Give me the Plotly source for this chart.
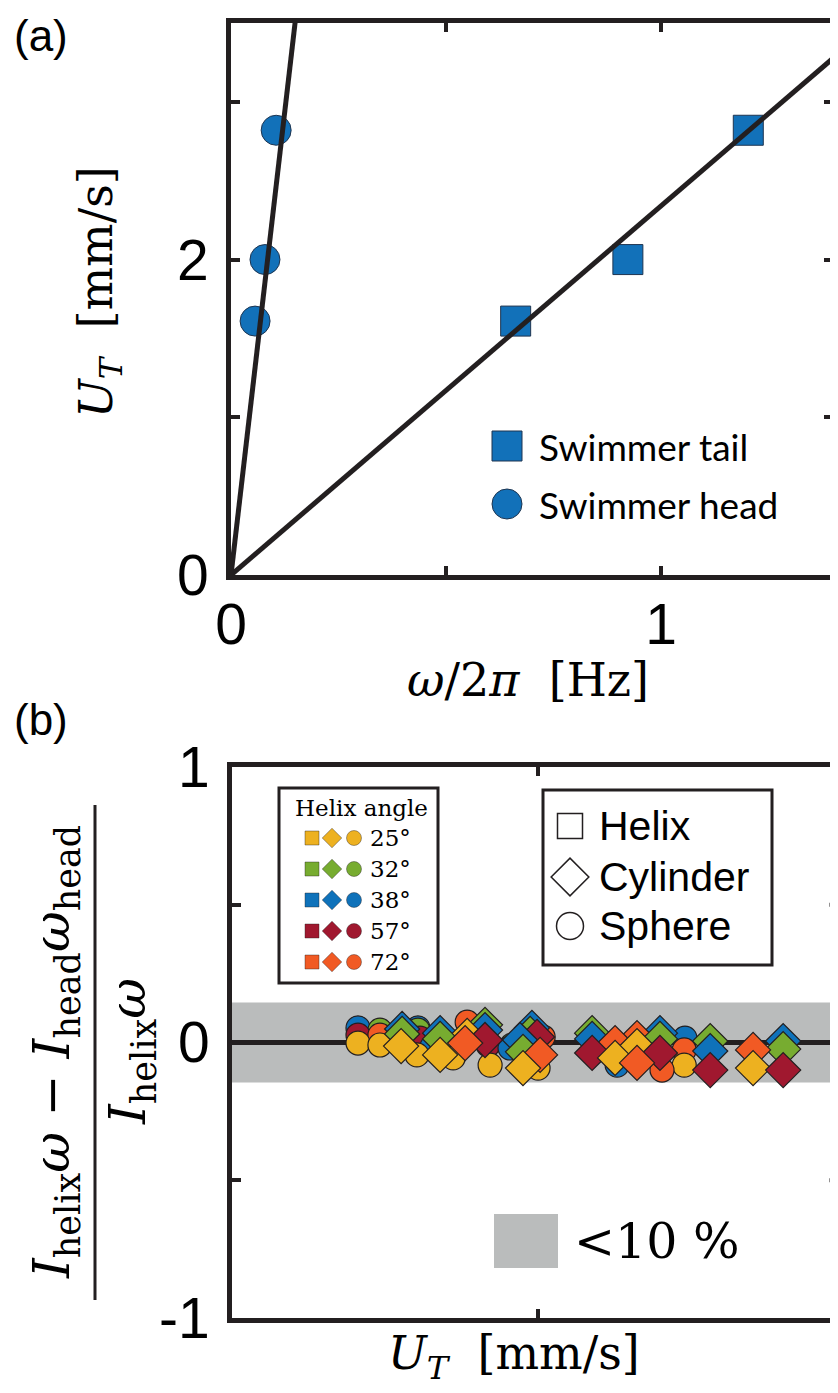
import plotly.graph_objects as go

# screen size and default page offset (body margin)
SW, SH = 838, 1393
OX, OY = 8, 8
FW, FH = SW - OX, SH - OY

# ---------------- Panel (a) data ----------------
swim_speed = [1.61, 2.00, 2.82]          # U_T [mm/s]
tail_freq = [0.662, 0.923, 1.203]        # omega/2pi of tail [Hz]
head_freq = [0.056, 0.079, 0.105]        # omega/2pi of head [Hz]
tail_fit_slope = 2.34
head_fit_slope = 23.5
freq_range = [0, 1.4]
speed_range = [0, 3.5]
a_xtick_vals = [0, 0.5, 1]
a_xtick_text = ["0", "", "1"]
a_ytick_vals = [0, 1, 2, 3]
a_ytick_text = ["0", "", "2", ""]

# ---------------- Panel (b) data ----------------
angle_labels = ["25°", "32°", "38°", "57°", "72°"]
angle_colors = ["#EDB120", "#77AC30", "#0F72BA", "#A0182F", "#F15A24"]

sph_x_25 = [1.294, 1.380, 1.525, 1.667, 1.812, 2.000, 2.573]
sph_y_25 = [-0.002, -0.009, -0.045, -0.056, -0.082, -0.093, -0.082]
cyl_x_25 = [1.463, 1.616, 1.722, 1.941, 2.302, 2.388, 2.843]
cyl_y_25 = [-0.013, -0.045, 0.024, -0.093, -0.056, -0.013, -0.093]

sph_x_32 = [1.380, 1.529, 1.898]
sph_y_32 = [0.045, 0.045, -0.009]
cyl_x_32 = [1.467, 1.616, 1.792, 1.969, 1.941, 2.212, 2.478, 2.675, 2.961]
cyl_y_32 = [0.031, 0.013, 0.064, 0.031, -0.034, 0.034, 0.013, 0.005, -0.024]

sph_x_38 = [1.294, 1.529, 1.584, 1.890, 2.310, 2.576]
sph_y_38 = [0.053, 0.053, -0.016, -0.020, -0.082, 0.016]
cyl_x_38 = [1.467, 1.616, 1.792, 1.976, 1.929, 2.212, 2.478, 2.675, 2.961]
cyl_y_38 = [0.049, 0.034, 0.045, 0.053, 0.009, 0.013, 0.034, -0.031, 0.005]

sph_x_57 = [1.294, 1.537, 1.804]
sph_y_57 = [0.027, 0.016, -0.009]
cyl_x_57 = [1.792, 1.996, 2.212, 2.478, 2.675, 2.961]
cyl_y_57 = [0.009, 0.020, -0.038, -0.038, -0.100, -0.100]

sph_x_72 = [1.380, 1.722, 2.020, 2.294, 2.486, 2.573]
sph_y_72 = [0.027, 0.074, 0.020, -0.002, -0.100, -0.027]
cyl_x_72 = [1.714, 2.008, 2.302, 2.388, 2.388, 2.843]
cyl_y_72 = [-0.002, -0.045, -0.002, 0.016, -0.074, -0.027]

band_half_width = 0.145
b_x_range = [0.8, 3.176]
b_xtick_vals = [2.0]
b_y_range = [-1, 1]
b_ytick_vals = [-1, -0.5, 0, 0.5, 1]
b_ytick_text = ["-1", "", "0", "", "1"]

# ---------------- figure ----------------
BLUE_A = "#1271B9"
BLACK = "#231F20"
GRAY = "#BABCBC"
SERIF = "DejaVu Serif"
SANS = "Liberation Sans"


def dx(sx):
    return (sx - OX) / FW


def dy(sy):
    return 1 - (sy - OY) / FH


fig = go.Figure()

# Panel (a) markers
fig.add_trace(go.Scatter(x=tail_freq, y=swim_speed, mode="markers", xaxis="x", yaxis="y",
                         marker=dict(symbol="square", size=30, color=BLUE_A,
                                     line=dict(color="#1F3550", width=1)), showlegend=False))
fig.add_trace(go.Scatter(x=head_freq, y=swim_speed, mode="markers", xaxis="x", yaxis="y",
                         marker=dict(symbol="circle", size=30, color=BLUE_A,
                                     line=dict(color="#1F3550", width=1)), showlegend=False))
# fit lines
for slope in (tail_fit_slope, head_fit_slope):
    fig.add_trace(go.Scatter(x=freq_range, y=[slope * v for v in freq_range], mode="lines",
                             xaxis="x", yaxis="y", line=dict(color=BLACK, width=5),
                             showlegend=False, hoverinfo="skip"))

# Panel (b) markers, lower points drawn in front
groups_sph = [(sph_x_25, sph_y_25), (sph_x_32, sph_y_32), (sph_x_38, sph_y_38),
              (sph_x_57, sph_y_57), (sph_x_72, sph_y_72)]
groups_cyl = [(cyl_x_25, cyl_y_25), (cyl_x_32, cyl_y_32), (cyl_x_38, cyl_y_38),
              (cyl_x_57, cyl_y_57), (cyl_x_72, cyl_y_72)]

for groups, sym, size in ((groups_sph, "circle", 24), (groups_cyl, "diamond", 27)):
    pts = []
    for (xs, ys), col in zip(groups, angle_colors):
        for xv, yv in zip(xs, ys):
            pts.append((yv, xv, col))
    pts.sort(key=lambda p: -p[0])
    fig.add_trace(go.Scatter(x=[p[1] for p in pts], y=[p[0] for p in pts], mode="markers",
                             xaxis="x2", yaxis="y2",
                             marker=dict(symbol=sym, size=size, color=[p[2] for p in pts],
                                         line=dict(color=BLACK, width=1.2)),
                             showlegend=False))

# ---------------- overlay (screen-pixel frame) for legends and labels ----------------
def px_marker(x, y, sym, size, color, line_color=None, lw=0):
    fig.add_trace(go.Scatter(x=[x], y=[y], mode="markers", xaxis="x3", yaxis="y3",
                             marker=dict(symbol=sym, size=size, color=color,
                                         line=dict(color=line_color or color, width=lw)),
                             showlegend=False, hoverinfo="skip"))

# legend (a)
px_marker(507, 446, "square", 30, BLUE_A, "#1F3550", 1)
px_marker(507, 504, "circle", 30, BLUE_A, "#1F3550", 1)

# legend (b): shapes
px_marker(570, 826, "square-open", 25, BLACK, BLACK, 1.5)
px_marker(570, 877, "diamond-open", 29, BLACK, BLACK, 1.5)
px_marker(570, 926, "circle-open", 27, BLACK, BLACK, 1.5)

# legend (b): helix angle
for i, col in enumerate(angle_colors):
    yr = 838 + i * 31
    px_marker(312, yr, "square", 14, col, BLACK, 0.4)
    px_marker(332, yr, "diamond", 15, col, BLACK, 0.4)
    px_marker(354, yr, "circle", 15, col, BLACK, 0.4)

annotations = []


def ann(x, y, text, size, family, xanchor="center", angle=0, color="black"):
    annotations.append(dict(x=x, y=y, xref="x3", yref="y3", text=text, showarrow=False,
                            xanchor=xanchor, yanchor="middle", textangle=angle,
                            font=dict(family=family, size=size, color=color)))


ann(41, 35, "(a)", 44, SANS)
ann(41, 719, "(b)", 44, SANS)
ann(537, 446, "Swimmer tail", 37, "Lato", "left")
ann(537, 504, "Swimmer head", 37, "Lato", "left")
ann(99, 292, "<i>U</i><sub><i>T</i></sub>&nbsp;&nbsp;[mm/s]", 46, SERIF, angle=-90)
ann(528, 680, "<i>ω</i>/2<i>π</i>&nbsp;&nbsp;[Hz]", 46, SERIF)
ann(514, 1356, "<i>U</i><sub><i>T</i></sub>&nbsp;&nbsp;[mm/s]", 46, SERIF)
ann(55, 1052, "<i>I</i><sub>helix</sub><i>ω</i> − <i>I</i><sub>head</sub><i>ω</i><sub>head</sub>",
    50, SERIF, angle=-90)
ann(131, 1052, "<i>I</i><sub>helix</sub><i>ω</i>", 50, SERIF, angle=-90)
ann(597, 826, "Helix", 41, SANS, "left")
ann(597, 877, "Cylinder", 41, SANS, "left")
ann(597, 926, "Sphere", 41, SANS, "left")
ann(361, 808, "Helix angle", 23, SERIF)
for i, lab in enumerate(angle_labels):
    ann(368, 838 + i * 31, lab, 23, SERIF, "left")
ann(572, 1241, "&lt;10 %", 49, SERIF, "left")

shapes = [
    # tolerance band
    dict(type="rect", xref="x2 domain", yref="y2", x0=0, x1=1,
         y0=-band_half_width, y1=band_half_width, fillcolor=GRAY, line=dict(width=0),
         layer="below"),
    # right-side ticks of (b)
    dict(type="line", xref="x2 domain", yref="y2", x0=0.986, x1=1, y0=0.5, y1=0.5,
         line=dict(color=BLACK, width=4)),
    dict(type="line", xref="x2 domain", yref="y2", x0=0.986, x1=1, y0=-0.5, y1=-0.5,
         line=dict(color=BLACK, width=4)),
    # fraction bar
    dict(type="line", xref="x3", yref="y3", x0=95, x1=95, y0=805, y1=1300,
         line=dict(color=BLACK, width=3)),
    # legend boxes
    dict(type="rect", xref="x3", yref="y3", x0=543, x1=772, y0=790, y1=965,
         line=dict(color=BLACK, width=3), fillcolor="rgba(0,0,0,0)"),
    dict(type="rect", xref="x3", yref="y3", x0=279, x1=438, y0=788, y1=983,
         line=dict(color=BLACK, width=3), fillcolor="white", layer="below"),
    dict(type="rect", xref="x3", yref="y3", x0=494, x1=558, y0=1214, y1=1268,
         fillcolor=GRAY, line=dict(width=0)),
]

axis_common = dict(showgrid=False, zeroline=False, showline=True, linecolor=BLACK,
                   linewidth=5, ticks="inside", ticklen=9, tickwidth=4, tickcolor=BLACK,
                   automargin=False,
                   tickfont=dict(family=SANS, size=57, color="black"))

fig.update_layout(
    template="none",
    width=FW, height=FH, margin=dict(l=0, r=0, t=0, b=0, pad=0, autoexpand=False),
    paper_bgcolor="white", plot_bgcolor="rgba(0,0,0,0)",
    showlegend=False,
    xaxis=dict(domain=[dx(231), dx(833)], range=freq_range, anchor="y", mirror="ticks",
               tickvals=a_xtick_vals, ticktext=a_xtick_text, ticklabelstandoff=-4,
               **axis_common),
    yaxis=dict(domain=[dy(575), dy(23)], range=speed_range, anchor="x",
               mirror="ticks", tickvals=a_ytick_vals, ticktext=a_ytick_text,
               ticklabelstandoff=6, **axis_common),
    xaxis2=dict(domain=[dx(232), 1.0], range=b_x_range, anchor="y2", mirror="ticks",
                tickvals=b_xtick_vals, showticklabels=False, **axis_common),
    yaxis2=dict(domain=[dy(1318), dy(767)], range=b_y_range, anchor="x2",
                tickvals=b_ytick_vals, ticktext=b_ytick_text, ticklabelstandoff=6,
                zeroline=True, zerolinecolor=BLACK, zerolinewidth=5,
                **{k: v for k, v in axis_common.items() if k != "zeroline"}),
    xaxis3=dict(domain=[0, 1], range=[OX, SW], anchor="y3", visible=False, fixedrange=True,
                automargin=False),
    yaxis3=dict(domain=[0, 1], range=[SH, OY], anchor="x3", visible=False, fixedrange=True,
                automargin=False),
    annotations=annotations,
    shapes=shapes,
)

fig.write_html("out.html")
